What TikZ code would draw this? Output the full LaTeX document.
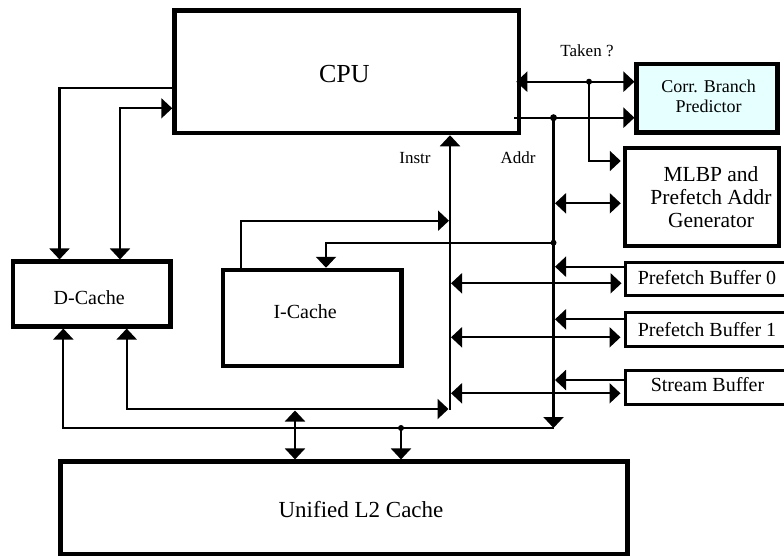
\documentclass[tikz,border=0pt]{standalone}
\usepackage{fontspec}
\setmainfont{Liberation Serif}
\usetikzlibrary{arrows.meta,calc}
\definecolor{cbpfill}{RGB}{230,255,255}
\begin{document}
\begin{tikzpicture}[x=1pt,y=-1pt,
  box/.style={draw=black, line width=4.5pt, inner sep=0pt},
  thinbox/.style={draw=black, line width=3pt, inner sep=0pt},
  ln/.style={line width=2.1pt},
  lab/.style={inner sep=0pt},
  dot/.style={circle, fill=black, inner sep=0pt, minimum size=6pt},
  >={Triangle[length=11pt,width=20pt]}]
\useasboundingbox (0,0) rectangle (784,557);
\clip (0,0) rectangle (784,557);

% boxes
\node[box, minimum width=344.5pt, minimum height=122.5pt,
  label={[lab,font=\fontsize{26}{30}\selectfont,xshift=-2.4pt,yshift=-2pt]center:CPU}] (cpu) at (346.75,71.75) {};
\node[box, minimum width=157.5pt, minimum height=64.6pt,
  label={[lab,font=\fontsize{20}{24}\selectfont,xshift=-2.5pt,yshift=-4pt]center:D-Cache}] (dc) at (91.75,294) {};
\node[box, minimum width=178.3pt, minimum height=96pt,
  label={[lab,font=\fontsize{20}{24}\selectfont,xshift=-7pt,yshift=6pt]center:I-Cache}] (ic) at (312.15,318) {};
\node[box, minimum width=567pt, minimum height=92.3pt,
  label={[lab,font=\fontsize{23}{27}\selectfont,xshift=17pt,yshift=-1.5pt]center:Unified L2 Cache}] (l2) at (344,507.85) {};
\node[box, fill=cbpfill, minimum width=140.8pt, minimum height=68.5pt,
  label={[lab,font=\fontsize{18}{20}\selectfont,align=center,xshift=1.5pt,yshift=2pt]center:Corr. Branch\\Predictor}] (cbp) at (707.1,98.25) {};
\node[box, minimum width=154pt, minimum height=98pt,
  label={[lab,font=\fontsize{21.5}{23.3}\selectfont,align=center,xshift=9pt,yshift=0pt]center:MLBP and\\Prefetch Addr\\Generator}] (mlbp) at (702,197) {};
\node[thinbox, minimum width=175pt, minimum height=33pt,
  label={[lab,font=\fontsize{20}{24}\selectfont,xshift=-5.5pt,yshift=1pt]center:Prefetch Buffer 0}] (pb0) at (712.5,278.5) {};
\node[thinbox, minimum width=175pt, minimum height=34.5pt,
  label={[lab,font=\fontsize{20}{24}\selectfont,xshift=-5.5pt,yshift=0pt]center:Prefetch Buffer 1}] (pb1) at (712.5,329.25) {};
\node[thinbox, minimum width=175pt, minimum height=34pt,
  label={[lab,font=\fontsize{20}{24}\selectfont,xshift=-5pt,yshift=2.5pt]center:Stream Buffer}] (sb) at (712.5,387) {};

% text labels
\node[lab,font=\fontsize{17}{20}\selectfont] (taken) at (587,50.5) {Taken ?};
\node[lab,font=\fontsize{17}{20}\selectfont] (instr) at (415,158) {Instr};
\node[lab,font=\fontsize{17}{20}\selectfont] (addr) at (518,158) {Addr};

% bus coordinates
\coordinate (ib) at (450,410);
\coordinate (abtop) at (553.5,117.7);
\coordinate (abbot) at (553.5,428);
\coordinate (tk) at (589,81.7);
\coordinate (ia) at (553.5,242.7);
\coordinate (l2a) at (401,428);

% CPU <-> D-Cache
\draw[ln,->] (cpu.west |- 0,88.3) -| (59.5,0 |- dc.north);
\draw[ln,<->] (cpu.west |- 0,108.3) -| (120,0 |- dc.north);

% D-Cache bottom connections
\draw[ln,<-] (63.3,0 |- dc.south) |- (abbot);
\draw[ln,<->] (126.7,0 |- dc.south) |- (448.5,409);
\draw[ln,<->] (295,410.5) -- (295,0 |- l2.north);
\draw[ln,->] (l2a) -- (l2a |- l2.north);
\node[dot] (d1) at (l2a) {};

% Instr bus
\draw[ln,->] (ib) -- (ib |- cpu.south);
\draw[ln,->] (241,0 |- ic.north) |- (449,220.7);

% Addr bus
\draw[ln,->] (abtop) -- (abbot);
\draw[ln,->] (ia) -| (326,0 |- ic.north);
\node[dot] (d2) at (ia) {};

% CPU -> Corr. Branch Predictor
\draw[ln,->] ($(cpu.east |- abtop)+(-7,0)$) -- (cbp.west |- abtop);
\node[dot, minimum size=7pt] (d3) at (abtop) {};
\draw[ln,<->] ($(cpu.east |- tk)+(-5,0)$) -- (cbp.west |- tk);
\draw[ln,->] (tk) |- ($(mlbp.west |- 0,161)+(-2,0)$);
\node[dot] (d4) at (tk) {};

% MLBP
\draw[ln,<->] ($(abtop |- 0,203.3)+(1.5,0)$) -- ($(mlbp.west |- 0,203.3)+(-2,0)$);

% buffers
\draw[ln,->] (pb0.west |- 0,266.7) -- ($(abtop |- 0,266.7)+(1.5,0)$);
\draw[ln,<->] ($(ib |- 0,283.3)+(1,0)$) -- ($(pb0.west |- 0,283.3)+(-2,0)$);
\draw[ln,->] (pb1.west |- 0,319.3) -- ($(abtop |- 0,319.3)+(1.5,0)$);
\draw[ln,<->] ($(ib |- 0,337.3)+(1,0)$) -- ($(pb1.west |- 0,337.3)+(-3,0)$);
\draw[ln,->] (sb.west |- 0,380) -- ($(abtop |- 0,380)+(1.5,0)$);
\draw[ln,<->] ($(ib |- 0,393.3)+(1,0)$) -- ($(sb.west |- 0,393.3)+(-3,0)$);
\end{tikzpicture}
\end{document}
